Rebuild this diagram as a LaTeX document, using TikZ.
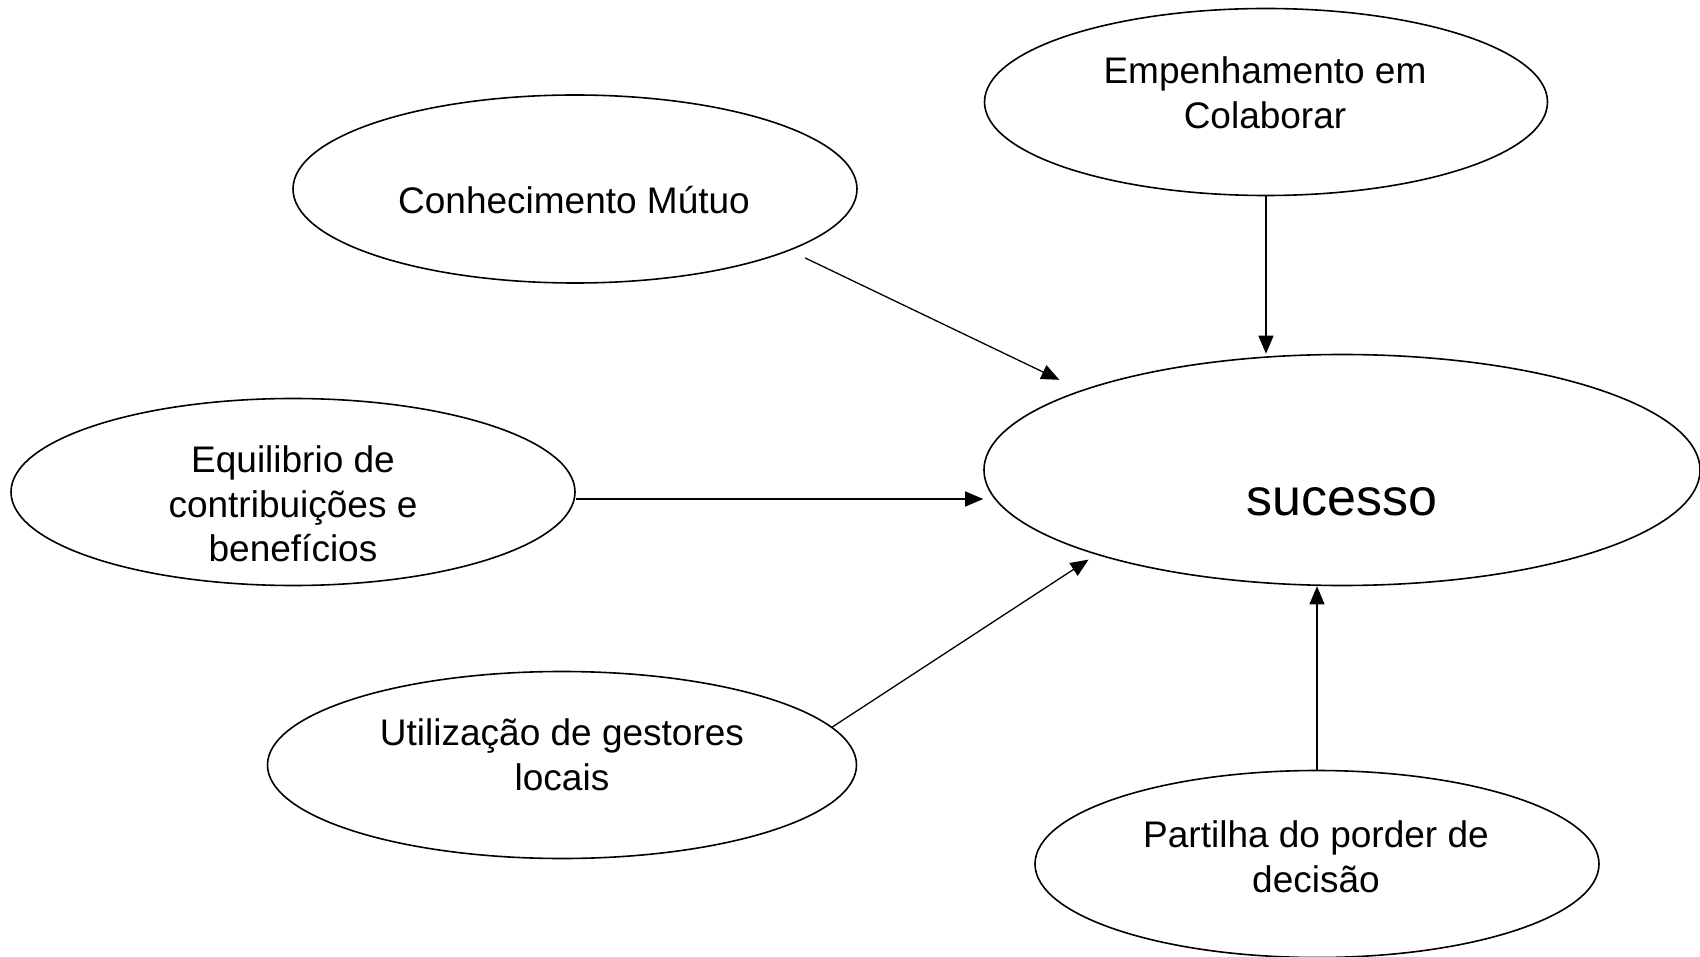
\documentclass[tikz,border=0pt]{standalone}
\usepackage{fontspec}
\setmainfont{Liberation Sans}
\usetikzlibrary{shapes.geometric,arrows.meta}
\begin{document}
\begin{tikzpicture}[x=1pt,y=-1pt,
  oval/.style={draw,ellipse,line width=1.6pt,inner sep=0pt},
  lbl/.style={align=center,font=\fontsize{37}{44.5}\selectfont,inner sep=0pt},
  arr/.style={line width=1.3pt,-{Triangle[length=18pt,width=15pt]}}]
\useasboundingbox (0,0) rectangle (1700,957);
% ellipses
\node[oval,minimum width=563pt,minimum height=187pt] (emp) at (1266,102) {};
\node[oval,minimum width=564pt,minimum height=188pt] (conh) at (575,189) {};
\node[oval,minimum width=564pt,minimum height=187pt] (equ) at (293,492) {};
\node[oval,minimum width=589pt,minimum height=187pt] (util) at (562,765) {};
\node[oval,minimum width=564pt,minimum height=187pt] (part) at (1317,864) {};
\node[oval,minimum width=716pt,minimum height=231pt] (suc) at (1342,470) {};
% texts
\node[lbl] (emp-t) at (1265,93) {Empenhamento em\\Colaborar};
\node[lbl] (conh-t) at (574,200) {Conhecimento Mútuo};
\node[lbl] (equ-t) at (293,504) {Equilibrio de\\contribuições e\\benefícios};
\node[lbl] (util-t) at (562,755) {Utilização de gestores\\locais};
\node[lbl] (part-t) at (1316,857) {Partilha do porder de\\decisão};
\node[align=center,font=\fontsize{52}{62}\selectfont,inner sep=0pt] (suc-t) at (1342,502) {sucesso};
% connectors
\draw[arr,shorten <=17pt,shorten >=24pt] (conh.-16) -- (suc.163);
\draw[arr] (emp.south) -- (emp.south |- suc.north);
\draw[arr] ([yshift=-7pt]equ.east) -- ([yshift=-7pt]equ.east -| suc.west);
\draw[arr,shorten >=9pt] (util.8) -- (suc.199);
\draw[arr] (part.north) -- (part.north |- suc.south);
\end{tikzpicture}
\end{document}
